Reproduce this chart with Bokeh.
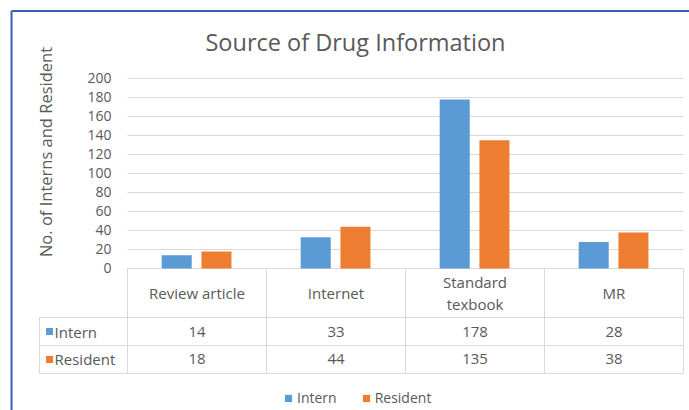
import math
from bokeh.plotting import figure
from bokeh.models import (ColumnDataSource, Range1d, FixedTicker, Label,
                          Legend, LegendItem)
from bokeh.embed import file_html
from bokeh.resources import INLINE
from bokeh.core.properties import value

# ---- data ----
categories = ["Review article", "Internet", "Standard texbook", "MR"]
header_labels = ["Review article", "Internet", "Standard\ntexbook", "MR"]
intern = [14, 33, 178, 28]
resident = [18, 44, 135, 38]
series_names = ["Intern", "Resident"]
series_colors = ["#5B9BD5", "#ED7D31"]
y_ticks = [0, 20, 40, 60, 80, 100, 120, 140, 160, 180, 200]

FONT = "Open Sans"
GRAY = "#595959"
GRID = "#D9D9D9"
BORDER = "#3A5DAE"

n = len(categories)

# layout (data units: 1 category per x unit, counts on y)
X_START, X_END = -0.9137, 4.0432
Y_START, Y_END = -149.5, 282.1
LABEL_COL = -0.633          # left edge of the series-name column
HEADER_BOT = -51.6          # bottom of header row
ROW1_BOT = -81.1            # bottom of "Intern" row
ROW2_BOT = -110.5           # bottom of "Resident" row

p = figure(width=689, height=410,
           x_range=Range1d(X_START, X_END), y_range=Range1d(Y_START, Y_END),
           output_backend="svg", toolbar_location=None,
           x_axis_location=None,
           min_border_left=0, min_border_right=0,
           min_border_top=0, min_border_bottom=0)
p.outline_line_color = None
p.background_fill_color = "white"
p.border_fill_color = "white"
p.xgrid.grid_line_color = None

# y axis drawn at x = 0 (left edge of plot area)
ax = p.yaxis[0]
ax.fixed_location = 0
ax.ticker = FixedTicker(ticks=y_ticks)
ax.axis_line_color = None
ax.major_tick_line_color = None
ax.minor_tick_line_color = None
ax.major_tick_out = 0
ax.major_tick_in = 0
ax.major_label_standoff = 16
ax.major_label_text_font = FONT
ax.major_label_text_font_size = "14px"
ax.major_label_text_color = GRAY

p.ygrid.ticker = FixedTicker(ticks=y_ticks)
p.ygrid.grid_line_color = GRID
try:
    p.ygrid.cross_bounds = (0, n)
except Exception:
    p.ygrid.grid_line_color = None
    p.segment(x0=[0] * len(y_ticks), y0=y_ticks, x1=[n] * len(y_ticks),
              y1=y_ticks, line_color=GRID, line_width=1)

# bars
src = ColumnDataSource(dict(
    cat=categories,
    xi=[i + 0.5 - 0.146 for i in range(n)],
    xr=[i + 0.5 + 0.140 for i in range(n)],
    intern=intern, resident=resident))
p.vbar(x="xi", top="intern", width=0.216, source=src,
       fill_color=series_colors[0], line_color=None)
p.vbar(x="xr", top="resident", width=0.216, source=src,
       fill_color=series_colors[1], line_color=None)

# title and axis title
p.add_layout(Label(x=1.64, y=237.9, text="Source of Drug Information",
                   text_align="center", text_baseline="middle",
                   text_font=FONT, text_font_size="23.5px", text_color=GRAY))
p.add_layout(Label(x=-0.59, y=122.6, text="No. of Interns and Resident",
                   angle=math.pi / 2, text_align="center",
                   text_baseline="middle", text_font=FONT,
                   text_font_size="16.5px", text_color=GRAY))

# data table rules
vx = list(range(n + 1))
p.segment(x0=vx, y0=[ROW2_BOT] * (n + 1), x1=vx, y1=[0] * (n + 1),
          line_color=GRID, line_width=1)
p.segment(x0=[LABEL_COL], y0=[ROW2_BOT], x1=[LABEL_COL], y1=[HEADER_BOT],
          line_color=GRID, line_width=1)
p.segment(x0=[LABEL_COL] * 3, y0=[HEADER_BOT, ROW1_BOT, ROW2_BOT],
          x1=[n] * 3, y1=[HEADER_BOT, ROW1_BOT, ROW2_BOT],
          line_color=GRID, line_width=1)

# data table texts
tsrc = ColumnDataSource(dict(
    x=[i + 0.5 for i in range(n)],
    header=header_labels,
    intern=[str(v) for v in intern],
    resident=[str(v) for v in resident],
))
txt = dict(text_font=value(FONT), text_font_size="15px", text_color=GRAY,
           text_baseline="middle")
p.text(x="x", y=HEADER_BOT / 2, text="header", text_align="center",
       text_line_height=1.08, source=tsrc, **txt)
p.text(x="x", y=(HEADER_BOT + ROW1_BOT) / 2, text="intern",
       text_align="center", source=tsrc, **txt)
p.text(x="x", y=(ROW1_BOT + ROW2_BOT) / 2, text="resident",
       text_align="center", source=tsrc, **txt)
p.text(x=[-0.525, -0.525],
       y=[(HEADER_BOT + ROW1_BOT) / 2, (ROW1_BOT + ROW2_BOT) / 2],
       text=series_names, text_align="left", **txt)

r_int = p.scatter(x=[-0.561], y=[(HEADER_BOT + ROW1_BOT) / 2],
                  marker="square", size=7,
                  fill_color=series_colors[0], line_color=None)
r_res = p.scatter(x=[-0.561], y=[(ROW1_BOT + ROW2_BOT) / 2],
                  marker="square", size=7,
                  fill_color=series_colors[1], line_color=None)

legend = Legend(items=[LegendItem(label=series_names[0], renderers=[r_int]),
                       LegendItem(label=series_names[1], renderers=[r_res])],
                orientation="horizontal", location=(279, 3),
                border_line_color=None, background_fill_alpha=0,
                label_text_font=FONT, label_text_font_size="14px",
                label_text_color=GRAY, glyph_width=18, glyph_height=18,
                label_height=18, label_standoff=0, spacing=20,
                padding=0, margin=0)
p.add_layout(legend, "center")

# blue frame lines on the left and top
x_border = -0.8345
y_border = 271.0
p.segment(x0=[x_border, x_border], y0=[Y_START, y_border],
          x1=[x_border, X_END], y1=[y_border, y_border],
          line_color=BORDER, line_width=2)

open("out.html", "w").write(file_html(p, INLINE))
